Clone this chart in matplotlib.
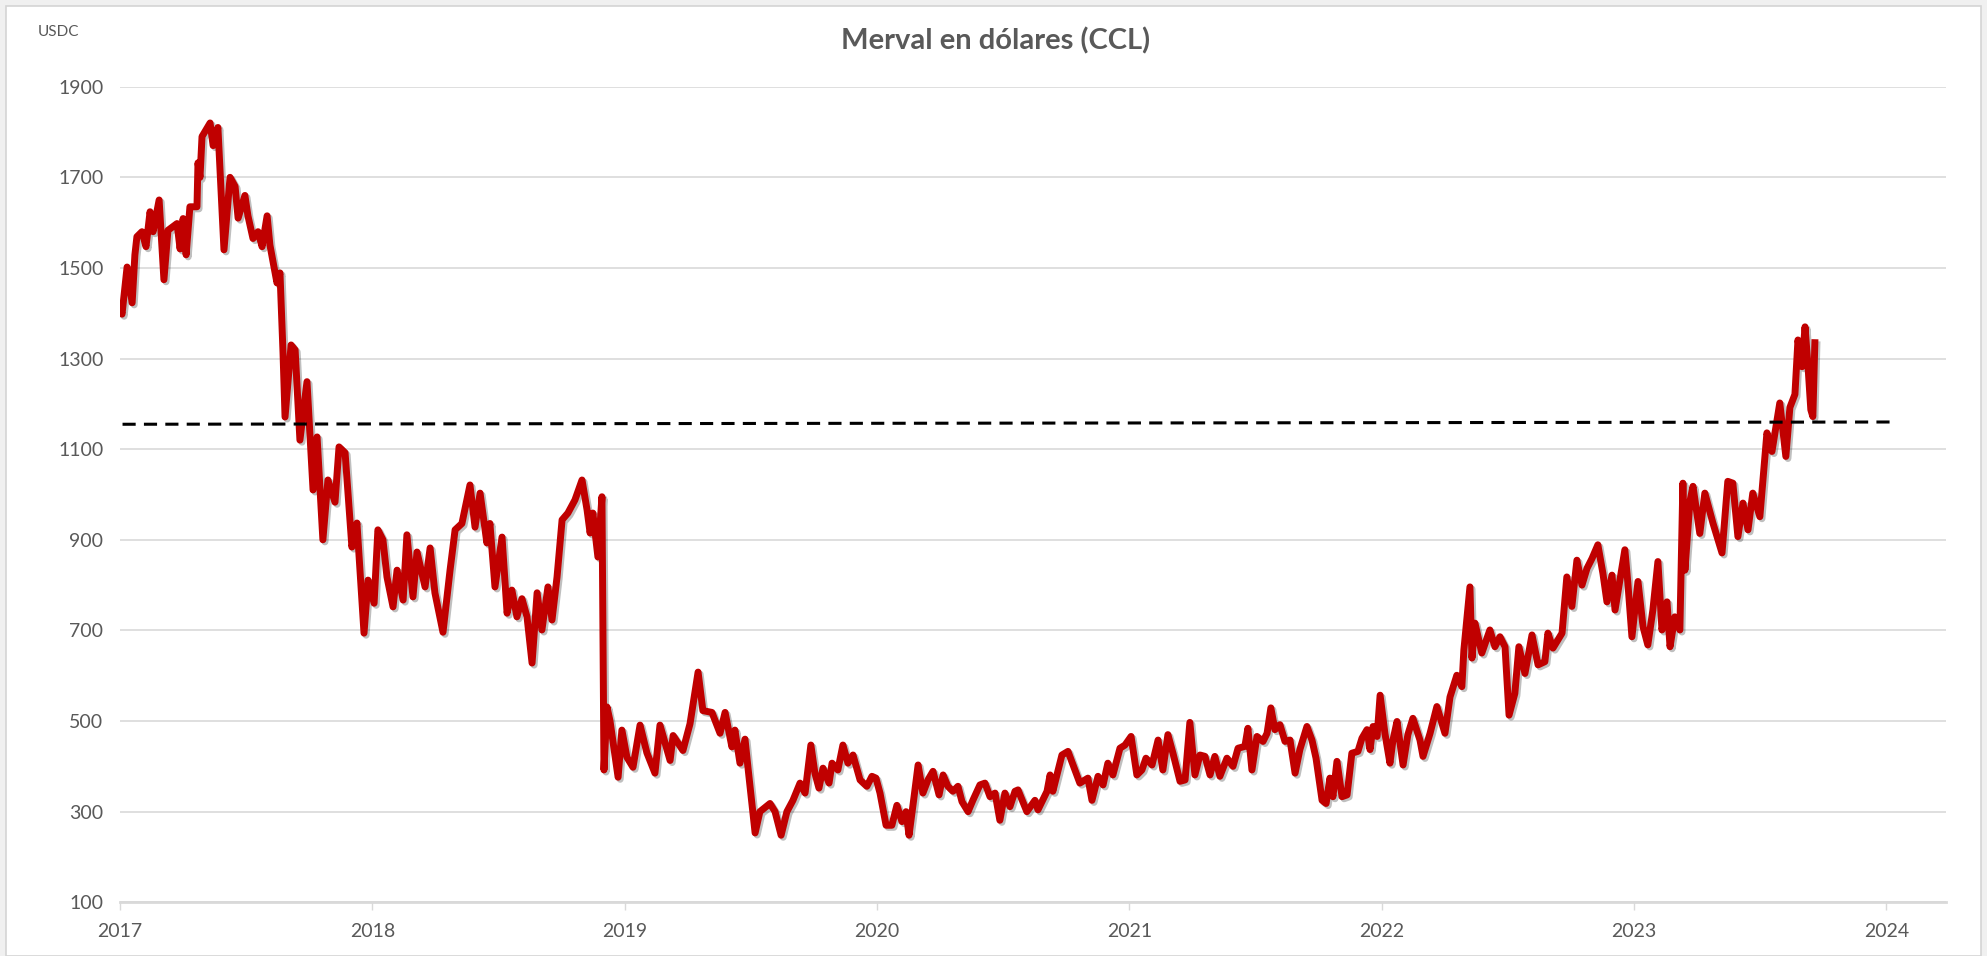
import matplotlib
matplotlib.use("Agg")
import matplotlib.pyplot as plt
import matplotlib.patheffects as pe
from matplotlib.patches import Rectangle

# Merval en dolares (CCL)
fecha_2017 = [2017.000, 2017.008, 2017.028, 2017.048, 2017.059, 2017.067, 2017.087, 2017.103, 2017.119, 2017.131,
              2017.155, 2017.174, 2017.190, 2017.226, 2017.238, 2017.250, 2017.262, 2017.277, 2017.305, 2017.309,
              2017.317, 2017.325, 2017.357, 2017.369, 2017.388, 2017.412, 2017.436, 2017.456, 2017.468, 2017.495,
              2017.507, 2017.527, 2017.547, 2017.563, 2017.583, 2017.594, 2017.622, 2017.634, 2017.646, 2017.654,
              2017.678, 2017.694, 2017.713, 2017.741, 2017.765, 2017.781, 2017.804, 2017.824, 2017.852, 2017.868,
              2017.892, 2017.919, 2017.939, 2017.967, 2017.983]
usd_2017 = [1414, 1398, 1502, 1423, 1529, 1569, 1580, 1547, 1624, 1580,
            1650, 1474, 1583, 1598, 1542, 1609, 1529, 1635, 1635, 1732,
            1700, 1790, 1820, 1770, 1810, 1540, 1700, 1680, 1610, 1660,
            1615, 1565, 1580, 1547, 1615, 1551, 1467, 1489, 1313, 1171,
            1330, 1319, 1120, 1249, 1010, 1127, 900, 1032, 983, 1105,
            1092, 884, 937, 694, 811]

fecha_2018 = [2018.007, 2018.022, 2018.042, 2018.058, 2018.082, 2018.098, 2018.122, 2018.137, 2018.161, 2018.177,
              2018.209, 2018.229, 2018.248, 2018.280, 2018.308, 2018.328, 2018.355, 2018.387, 2018.407, 2018.427,
              2018.454, 2018.466, 2018.486, 2018.514, 2018.534, 2018.553, 2018.573, 2018.593, 2018.613, 2018.633,
              2018.653, 2018.672, 2018.696, 2018.712, 2018.732, 2018.752, 2018.775, 2018.803, 2018.831, 2018.851,
              2018.863, 2018.874, 2018.894, 2018.910, 2018.918, 2018.930, 2018.942, 2018.974, 2018.989]
usd_2018 = [760, 922, 900, 818, 752, 833, 767, 911, 774, 873,
            796, 882, 783, 696, 833, 922, 936, 1021, 928, 1003,
            893, 936, 796, 906, 738, 789, 730, 770, 730, 628,
            783, 701, 796, 723, 818, 944, 959, 988, 1032, 966,
            915, 959, 862, 995, 392, 531, 500, 376, 480]

fecha_2019 = [2019.009, 2019.033, 2019.061, 2019.088, 2019.120, 2019.140, 2019.180, 2019.192, 2019.231, 2019.259,
              2019.291, 2019.310, 2019.346, 2019.378, 2019.398, 2019.425, 2019.437, 2019.457, 2019.477, 2019.489,
              2019.517, 2019.536, 2019.576, 2019.596, 2019.620, 2019.643, 2019.667, 2019.695, 2019.715, 2019.738,
              2019.754, 2019.770, 2019.786, 2019.810, 2019.822, 2019.845, 2019.865, 2019.885, 2019.905, 2019.933,
              2019.960, 2019.980, 2019.996]
usd_2019 = [420, 398, 491, 430, 385, 491, 413, 468, 435, 494,
            608, 523, 519, 473, 519, 443, 480, 407, 460, 396,
            253, 300, 318, 300, 248, 300, 325, 363, 341, 447,
            385, 352, 396, 363, 407, 392, 447, 407, 425, 370,
            356, 378, 374]

fecha_2020 = [2020.012, 2020.036, 2020.059, 2020.079, 2020.099, 2020.115, 2020.127, 2020.147, 2020.163, 2020.182,
              2020.202, 2020.222, 2020.246, 2020.262, 2020.281, 2020.301, 2020.321, 2020.337, 2020.361, 2020.380,
              2020.408, 2020.428, 2020.448, 2020.468, 2020.487, 2020.507, 2020.527, 2020.547, 2020.559, 2020.594,
              2020.626, 2020.638, 2020.674, 2020.686, 2020.697, 2020.733, 2020.757, 2020.777, 2020.804, 2020.836,
              2020.852, 2020.876, 2020.896, 2020.915, 2020.935, 2020.963, 2020.983]
usd_2020 = [341, 270, 270, 314, 278, 300, 248, 333, 403, 341,
            370, 389, 337, 381, 356, 345, 356, 322, 300, 325,
            359, 363, 333, 341, 281, 341, 311, 345, 348, 300,
            325, 304, 345, 381, 345, 425, 433, 403, 363, 374,
            325, 378, 359, 407, 381, 440, 447]

fecha_2021 = [2021.007, 2021.030, 2021.050, 2021.066, 2021.090, 2021.114, 2021.133, 2021.153, 2021.173, 2021.201,
              2021.221, 2021.240, 2021.260, 2021.280, 2021.300, 2021.320, 2021.339, 2021.359, 2021.387, 2021.411,
              2021.431, 2021.458, 2021.470, 2021.486, 2021.506, 2021.530, 2021.546, 2021.561, 2021.577, 2021.597,
              2021.617, 2021.637, 2021.657, 2021.676, 2021.704, 2021.724, 2021.740, 2021.764, 2021.780, 2021.795,
              2021.807, 2021.823, 2021.843, 2021.863, 2021.882, 2021.906, 2021.922, 2021.942, 2021.954, 2021.966,
              2021.982, 2021.994]
usd_2021 = [466, 381, 392, 418, 403, 458, 392, 470, 429, 367,
            370, 497, 381, 425, 422, 381, 422, 378, 418, 400,
            440, 444, 484, 392, 466, 455, 473, 529, 481, 492,
            455, 458, 385, 437, 488, 458, 418, 325, 318, 374,
            333, 411, 333, 337, 429, 433, 462, 481, 437, 488,
            466, 557]

fecha_2022 = [2022.013, 2022.033, 2022.045, 2022.061, 2022.085, 2022.104, 2022.124, 2022.152, 2022.164, 2022.192,
              2022.219, 2022.251, 2022.271, 2022.298, 2022.318, 2022.326, 2022.350, 2022.358, 2022.370, 2022.397,
              2022.429, 2022.449, 2022.469, 2022.489, 2022.505, 2022.528, 2022.544, 2022.568, 2022.596, 2022.620,
              2022.647, 2022.659, 2022.679, 2022.715, 2022.734, 2022.754, 2022.774, 2022.794, 2022.814, 2022.834,
              2022.857, 2022.877, 2022.893, 2022.913, 2022.925, 2022.964, 2022.976, 2022.992]
usd_2022 = [473, 407, 458, 499, 403, 470, 506, 458, 422, 473,
            532, 473, 553, 601, 576, 657, 796, 639, 716, 650,
            701, 664, 686, 664, 513, 561, 664, 605, 690, 624,
            631, 694, 661, 694, 818, 753, 855, 800, 837, 859,
            889, 826, 763, 822, 745, 878, 804, 686]

fecha_2023 = [2023.016, 2023.036, 2023.055, 2023.075, 2023.095, 2023.111, 2023.131, 2023.143, 2023.162, 2023.182,
              2023.194, 2023.202, 2023.222, 2023.234, 2023.261, 2023.281, 2023.313, 2023.349, 2023.372, 2023.392,
              2023.412, 2023.432, 2023.452, 2023.471, 2023.499, 2023.527, 2023.547, 2023.578, 2023.602, 2023.618,
              2023.638, 2023.650, 2023.666, 2023.678, 2023.689, 2023.701, 2023.709, 2023.717]
usd_2023 = [808, 708, 668, 745, 852, 701, 763, 664, 730, 701,
            1025, 833, 985, 1018, 914, 1003, 937, 871, 1029, 1025,
            907, 981, 922, 1003, 951, 1136, 1095, 1202, 1084, 1192,
            1221, 1341, 1282, 1370, 1290, 1187, 1172, 1335]

# linea de referencia punteada
ref_fechas = [2017.01, 2024.04]
ref_valores = [1155, 1160]

anios = [2017, 2018, 2019, 2020, 2021, 2022, 2023, 2024]
niveles = [100, 300, 500, 700, 900, 1100, 1300, 1500, 1700, 1900]

fecha = fecha_2017 + fecha_2018 + fecha_2019 + fecha_2020 + fecha_2021 + fecha_2022 + fecha_2023
usd = usd_2017 + usd_2018 + usd_2019 + usd_2020 + usd_2021 + usd_2022 + usd_2023

fuente = ['Lato', 'DejaVu Sans']
gris = '#595959'

fig = plt.figure(figsize=(19.87, 9.56), dpi=100, facecolor='#F0F0F0')
# marco blanco del grafico (detras de todo)
fig.patches.append(Rectangle((0.003, 0.0), 0.994, 0.994, transform=fig.transFigure,
                             facecolor='white', edgecolor='#D4D4D4', linewidth=1.2, zorder=-10))

ax = fig.add_axes([0.0604, 0.0562, 0.9190, 0.8531])
ax.set_facecolor('white')
ax.patch.set_alpha(0)

ax.plot(fecha, usd, color='#C00000', linewidth=5, solid_joinstyle='round', zorder=3,
        path_effects=[pe.SimpleLineShadow(offset=(1.5, -1.5), shadow_color='black', alpha=0.25), pe.Normal()])
ax.plot(ref_fechas, ref_valores, color='black', linewidth=2.2, dashes=(4.3, 2.7), zorder=4)

ax.set_xlim(2017, 2024.237)
ax.set_ylim(100, 1900)
ax.set_yticks(niveles)
ax.set_xticks(anios)
ax.set_xticklabels([str(a) for a in anios], family=fuente, fontsize=14, color=gris)
ax.set_yticklabels([str(n) for n in niveles], family=fuente, fontsize=14, color=gris)
ax.tick_params(axis='y', length=0, pad=12)
ax.tick_params(axis='x', length=6, width=1, color='#D9D9D9', pad=9)
ax.grid(axis='y', color='#D9D9D9', linewidth=1.2)
ax.set_axisbelow(True)
for s in ['top', 'right', 'left']:
    ax.spines[s].set_visible(False)
ax.spines['bottom'].set_color('#D9D9D9')
ax.spines['bottom'].set_linewidth(2)

fig.text(0.5008, 0.957, 'Merval en dólares (CCL)', ha='center', va='center',
         family=fuente, fontsize=21, fontweight='bold', color=gris)
fig.text(0.019, 0.9665, 'USDC', ha='left', va='center', family=fuente, fontsize=11, color=gris)

plt.savefig('out.png', dpi=100, facecolor=fig.get_facecolor())
